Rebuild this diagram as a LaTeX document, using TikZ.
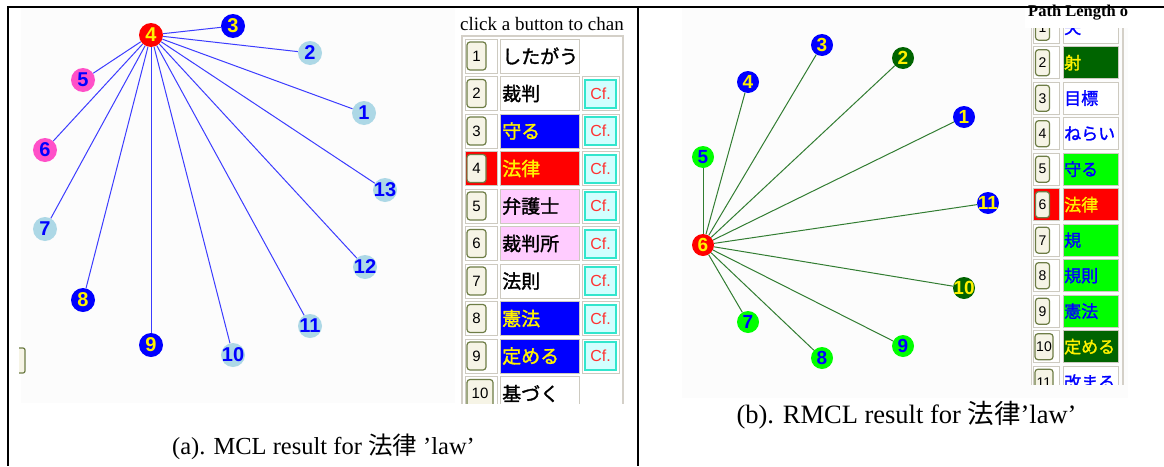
\documentclass[tikz,border=0pt]{standalone}
\usepackage{fontspec}
\setmainfont{Liberation Serif}
\newfontfamily\jp{Noto Sans CJK JP}
\newfontfamily\jpb[FakeBold=1.5]{Noto Sans CJK JP}
\newfontfamily\lab{Liberation Sans}
\definecolor{lbc}{RGB}{173,216,230}
\definecolor{pinkn}{RGB}{255,80,200}
\definecolor{dkg}{RGB}{0,100,0}
\definecolor{edgea}{RGB}{60,60,255}
\definecolor{edgeb}{RGB}{50,125,50}
\definecolor{cellgray}{RGB}{205,202,192}
\definecolor{tblgray}{RGB}{212,208,200}
\definecolor{btnolive}{RGB}{110,125,70}
\definecolor{btnfill}{RGB}{246,244,230}
\definecolor{cfcyan}{RGB}{50,230,205}
\definecolor{cffill}{RGB}{210,255,255}
\definecolor{cfred}{RGB}{255,50,50}
\definecolor{tpink}{RGB}{255,204,255}
\definecolor{bgshot}{RGB}{252,252,252}
\newcommand\GN[8]{\node[gn, minimum size=#7pt, fill=#4, label={[glab,text=#5,font=\lab\bfseries\fontsize{#8}{#8}\selectfont]center:#6}] (#1) at (#2,#3) {};}
\begin{document}
\begin{tikzpicture}[x=1pt,y=-1pt,
  gn/.style={circle, inner sep=0pt},
  glab/.style={inner sep=0pt},
  aedge/.style={draw=edgea, line width=1pt},
  bedge/.style={draw=edgeb, line width=1pt},
  cell/.style={draw=cellgray, line width=1pt},
  btn/.style={rectangle, rounded corners=3pt, draw=btnolive, line width=1.2pt, fill=btnfill, inner sep=0pt, font=\lab\fontsize{15}{15}\selectfont},
  cfbox/.style={rectangle, draw=cfcyan, line width=2pt, fill=cffill, inner sep=0pt, minimum width=31pt, minimum height=28pt, text=cfred, font=\lab\fontsize{16}{16}\selectfont},
  jpa/.style={inner sep=0pt, anchor=west, font=\jpb\fontsize{19}{19}\selectfont},
  jpbt/.style={inner sep=0pt, anchor=west, font=\jpb\fontsize{17}{17}\selectfont},
  frame/.style={line width=2pt, draw=black}]
\useasboundingbox (0,0) rectangle (1164,466);
\fill[white] (0,0) rectangle (1164,466);
% screenshot backgrounds
\fill[bgshot] (21,8) rectangle (455,403);
\fill[bgshot] (682,8) rectangle (1128,398);
% ---------- graph (a) ----------
\GN{a4}{151}{35}{red}{yellow}{4}{24}{20}
\GN{a3}{233}{26}{blue}{yellow}{3}{24}{20}
\GN{a2}{310}{53}{lbc}{blue}{2}{24}{20}
\GN{a5}{83}{80}{pinkn}{blue}{5}{24}{20}
\GN{a1}{364}{113}{lbc}{blue}{1}{24}{20}
\GN{a6}{45}{150}{pinkn}{blue}{6}{24}{20}
\GN{a13}{385}{190}{lbc}{blue}{13}{24}{20}
\GN{a7}{45}{229}{lbc}{blue}{7}{24}{20}
\GN{a12}{365}{267}{lbc}{blue}{12}{24}{20}
\GN{a8}{83}{300}{blue}{yellow}{8}{24}{20}
\GN{a9}{151}{345}{blue}{yellow}{9}{24}{20}
\GN{a10}{233}{355}{lbc}{blue}{10}{24}{20}
\GN{a11}{310}{326}{lbc}{blue}{11}{24}{20}
\foreach \n in {1,2,3,5,6,7,8,9,10,11,12,13}{\draw[aedge] (a4) -- (a\n);}
% left stub of a button
\draw[btnolive, line width=1.2pt, rounded corners=2pt, fill=btnfill] (19,348) -- (25,348) -- (25,373) -- (19,373);
% ---------- table (a) ----------
\node[inner sep=0pt, anchor=west, font=\fontsize{19}{19}\selectfont] (hdra) at (460,24) {click a button to chan};
\begin{scope}
\clip (455,32) rectangle (630,403);
\draw[tblgray, line width=1.5pt] (462,410) -- (462,36) -- (623,36) -- (623,410);
\foreach \k/\w/\f/\c/\cf/\bc in {1/したがう/white/black/0/white, 2/裁判/white/black/1/white, 3/守る/blue/yellow/1/white, 4/法律/red/yellow/1/red, 5/弁護士/tpink/black/1/white, 6/裁判所/tpink/black/1/white, 7/法則/white/black/1/white, 8/憲法/blue/yellow/1/white, 9/定める/blue/yellow/1/white, 10/基づく/white/black/0/white}{
  \pgfmathsetmacro\ytop{39+(\k-1)*37.5}
  \pgfmathsetmacro\ybot{\ytop+34}
  \pgfmathsetmacro\ymid{\ytop+17}
  \ifnum\k>9 \def\bw{26}\def\bx{480}\else\def\bw{19}\def\bx{476.5}\fi
  \draw[cell, fill=\bc] (465,\ytop) rectangle (497,\ybot);
  \draw[cell, fill=\f] (500,\ytop) rectangle (579,\ybot);
  \node[btn, minimum width=\bw pt, minimum height=28pt] (ba\k) at (\bx,\ymid) {\k};
  \node[jpa, text=\c] (wa\k) at (502,\ymid) {\w};
  \ifnum\cf=1
    \draw[cell] (582,\ytop) rectangle (619,\ybot);
    \node[cfbox] (ca\k) at (600.5,\ymid) {Cf.};
  \fi
}
\end{scope}
% ---------- graph (b) ----------
\GN{b6}{703}{245}{red}{yellow}{6}{22}{19}
\GN{b5}{703}{157}{green}{blue}{5}{22}{19}
\GN{b4}{748}{82}{blue}{yellow}{4}{22}{19}
\GN{b3}{822}{45}{blue}{yellow}{3}{22}{19}
\GN{b2}{903}{58}{dkg}{yellow}{2}{22}{19}
\GN{b1}{964}{117}{blue}{yellow}{1}{22}{19}
\GN{b11}{988}{203}{blue}{yellow}{11}{22}{19}
\GN{b10}{964}{288}{dkg}{yellow}{10}{22}{19}
\GN{b9}{903}{346}{green}{blue}{9}{22}{19}
\GN{b8}{822}{358}{green}{blue}{8}{22}{19}
\GN{b7}{748}{322}{green}{blue}{7}{22}{19}
\foreach \n in {1,2,3,4,5,7,8,9,10,11}{\draw[bedge] (b6) -- (b\n);}
% ---------- table (b) ----------
\begin{scope}
\clip (1025,28) rectangle (1130,384);
\draw[tblgray, line width=1.5pt] (1031.5,20) -- (1031.5,390);
\draw[tblgray, line width=1.5pt] (1123,20) -- (1123,390);
\foreach \k/\w/\f/\c/\bc in {1/矢/white/blue/white, 2/射/dkg/yellow/white, 3/目標/white/blue/white, 4/ねらい/white/blue/white, 5/守る/green/blue/white, 6/法律/red/yellow/red, 7/規/green/blue/white, 8/規則/green/blue/white, 9/憲法/green/blue/white, 10/定める/dkg/yellow/white, 11/改まる/white/blue/white}{
  \pgfmathsetmacro\ytop{11.2+(\k-1)*35.5}
  \pgfmathsetmacro\ybot{\ytop+32}
  \pgfmathsetmacro\ymid{\ytop+16}
  \ifnum\k>9 \def\bw{18}\def\bx{1044}\else\def\bw{14}\def\bx{1042.5}\fi
  \draw[cell, fill=\bc] (1033,\ytop) rectangle (1059,\ybot);
  \draw[cell, fill=\f] (1063,\ytop) rectangle (1118,\ybot);
  \node[btn, minimum width=\bw pt, minimum height=26pt, font=\lab\fontsize{14}{14}\selectfont] (bb\k) at (\bx,\ymid) {\k};
  \node[jpbt, text=\c] (wb\k) at (1064,\ymid) {\w};
}
\end{scope}
\fill[white] (1025,8) rectangle (1130,27.5);
\node[inner sep=0pt, anchor=west, font=\bfseries\fontsize{16.5}{16.5}\selectfont] (hdrb) at (1028,13) {Path Length o};
% ---------- captions ----------
\node[inner sep=0pt, font=\fontsize{24.5}{24.5}\selectfont] (capa) at (323.5,447) {(a). MCL result for {\jp 法律} ’law’};
\node[inner sep=0pt, font=\fontsize{26.5}{26.5}\selectfont] (capb) at (906.5,415) {(b). RMCL result for {\jp 法律}’law’};
% ---------- frames ----------
\draw[frame] (7,7) -- (1164,7);
\draw[frame] (8,7) -- (8,466);
\draw[frame] (638,7) -- (638,466);
\end{tikzpicture}
\end{document}
